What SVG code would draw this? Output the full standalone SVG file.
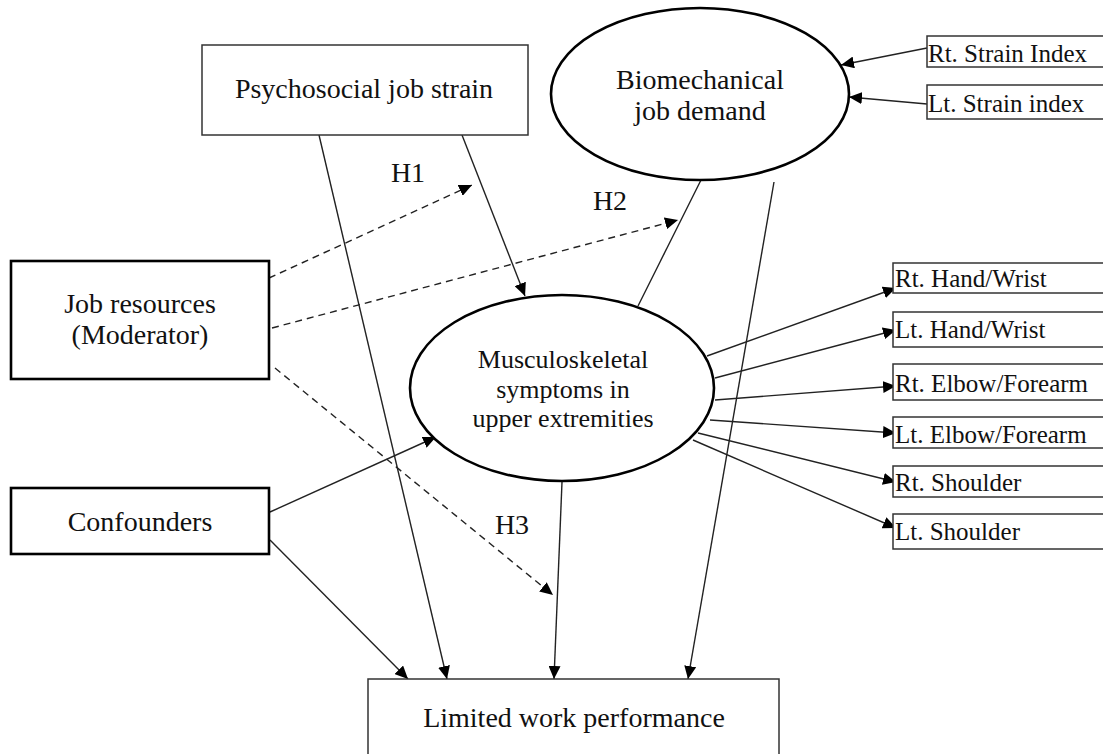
<svg xmlns="http://www.w3.org/2000/svg" width="1103" height="754" viewBox="0 0 1103 754">
<defs>
<marker id="ah" markerUnits="userSpaceOnUse" markerWidth="14" markerHeight="12" refX="13" refY="6" orient="auto">
<path d="M0,0 L13,6 L0,12 Z" fill="#000"/>
</marker>
<style>
text{font-family:"Liberation Serif","Times New Roman",serif;fill:#111;}
.big{font-size:28px;text-anchor:middle;}
.mid{font-size:26px;text-anchor:middle;}
.sm{font-size:25px;}
.thin{fill:#fff;stroke:#333;stroke-width:1.5;}
.thick{fill:#fff;stroke:#000;stroke-width:2.6;}
.ell{fill:#fff;stroke:#000;stroke-width:2.6;}
.c{stroke:#222;stroke-width:1.4;fill:none;}
.a{marker-end:url(#ah);}
.d{stroke-dasharray:7 5;}
</style>
</defs>
<rect width="1103" height="754" fill="#fff"/>
<g id="connectors">
<line class="c a" x1="927" y1="48" x2="841" y2="65"/>
<line class="c a" x1="927" y1="104" x2="849" y2="97"/>
<line class="c a" x1="319" y1="135" x2="447" y2="679"/>
<line class="c a" x1="462" y1="135" x2="525" y2="296"/>
<line class="c a" x1="774" y1="182" x2="688" y2="679"/>
<line class="c" x1="701" y1="180" x2="638" y2="306"/>
<line class="c a" x1="562" y1="482" x2="554" y2="679"/>
<line class="c a" x1="270" y1="512" x2="436" y2="437"/>
<line class="c a" x1="270" y1="540" x2="408" y2="679"/>
<line class="c a d" x1="269" y1="278" x2="472" y2="185"/>
<line class="c a d" x1="272" y1="328" x2="678" y2="220"/>
<line class="c a d" x1="275" y1="368" x2="553" y2="595"/>
<line class="c a" x1="707" y1="356" x2="896" y2="288"/>
<line class="c a" x1="715" y1="378" x2="896" y2="330"/>
<line class="c a" x1="715" y1="400" x2="896" y2="386"/>
<line class="c a" x1="710" y1="420" x2="896" y2="433"/>
<line class="c a" x1="698" y1="433" x2="896" y2="482"/>
<line class="c a" x1="693" y1="440" x2="896" y2="528"/>
</g>
<g id="labels">
<text class="big" x="408" y="182">H1</text>
<text class="big" x="610" y="210">H2</text>
<text class="big" x="512" y="534">H3</text>
</g>
<g id="psychosocial">
<rect class="thin" x="202" y="45" width="326" height="90"/>
<text class="big" x="364" y="98">Psychosocial job strain</text>
</g>
<g id="biomechanical">
<ellipse class="ell" cx="700" cy="94" rx="149" ry="86"/>
<text class="big" x="700" y="89">Biomechanical</text>
<text class="big" x="700" y="120">job demand</text>
</g>
<g id="rt-strain">
<rect class="thin" x="927" y="36" width="180" height="31"/>
<text class="sm" x="928" y="62">Rt. Strain Index</text>
</g>
<g id="lt-strain">
<rect class="thin" x="927" y="85" width="180" height="34"/>
<text class="sm" x="928" y="112">Lt. Strain index</text>
</g>
<g id="job-resources">
<rect class="thick" x="11" y="261" width="258" height="118"/>
<text class="big" x="140" y="313">Job resources</text>
<text class="big" x="140" y="344">(Moderator)</text>
</g>
<g id="confounders">
<rect class="thick" x="11" y="488" width="258" height="66"/>
<text class="big" x="140" y="531">Confounders</text>
</g>
<g id="musculoskeletal">
<ellipse class="ell" cx="562" cy="388" rx="152" ry="93"/>
<text class="mid" x="563" y="368">Musculoskeletal</text>
<text class="mid" x="563" y="398">symptoms in</text>
<text class="mid" x="563" y="427">upper extremities</text>
</g>
<g id="rt-hand">
<rect class="thin" x="893" y="263" width="215" height="30"/>
<text class="sm" x="895" y="287">Rt. Hand/Wrist</text>
</g>
<g id="lt-hand">
<rect class="thin" x="893" y="312" width="215" height="35"/>
<text class="sm" x="895" y="338">Lt. Hand/Wrist</text>
</g>
<g id="rt-elbow">
<rect class="thin" x="893" y="364" width="215" height="36"/>
<text class="sm" x="895" y="392">Rt. Elbow/Forearm</text>
</g>
<g id="lt-elbow">
<rect class="thin" x="893" y="417" width="215" height="31"/>
<text class="sm" x="895" y="443">Lt. Elbow/Forearm</text>
</g>
<g id="rt-shoulder">
<rect class="thin" x="893" y="466" width="215" height="31"/>
<text class="sm" x="895" y="491">Rt. Shoulder</text>
</g>
<g id="lt-shoulder">
<rect class="thin" x="893" y="514" width="215" height="35"/>
<text class="sm" x="895" y="540">Lt. Shoulder</text>
</g>
<g id="limited">
<rect class="thin" x="368" y="679" width="411" height="90"/>
<text class="big" x="574" y="727">Limited work performance</text>
</g>
</svg>
